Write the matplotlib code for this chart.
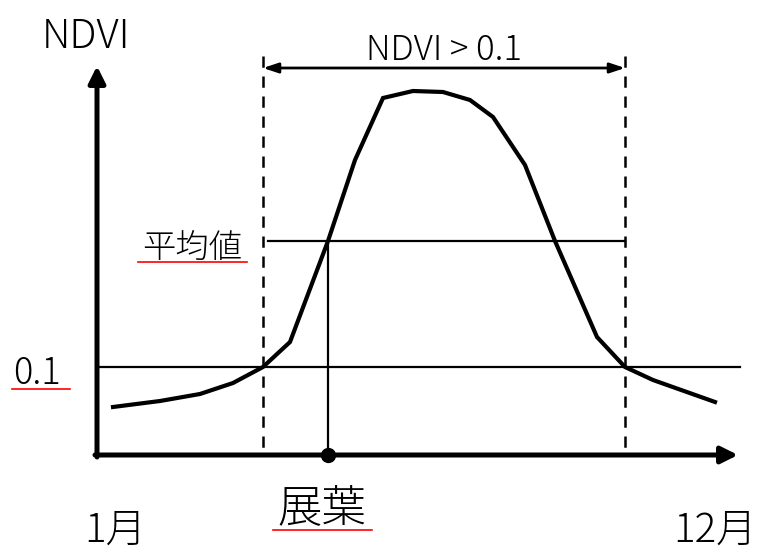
import matplotlib
matplotlib.use("Agg")
import matplotlib.pyplot as plt

plt.rcParams['font.family'] = ['Noto Sans CJK JP', 'DejaVu Sans']
plt.rcParams['font.weight'] = 'light'

# schematic coordinates (x to the right, y downward like the drawing)
curve_x = [113, 160, 200, 233, 263, 290, 328, 355, 383, 413, 443, 470, 493, 525, 555, 597, 625, 653, 715]
curve_y = [407, 401, 394, 383, 367, 342, 241, 160, 98, 91, 92, 100, 117, 165, 241, 337, 367, 380, 402]

origin = (97, 455)
x_end = 738
y_end = 66
start_x = 263      # NDVI crosses 0.1 going up
end_x = 625        # NDVI crosses 0.1 going down
thr_y = 367        # NDVI = 0.1
mean_y = 241       # mean NDVI
leaf_x = 328       # leaf-out date

fig = plt.figure(figsize=(7.63, 5.54), dpi=100)
ax = fig.add_axes([0, 0, 1, 1])
ax.set_xlim(0, 763)
ax.set_ylim(554, 0)
ax.axis('off')

# axes with arrows
ax.annotate('', xy=(origin[0], y_end), xytext=(origin[0], origin[1] + 2),
            arrowprops=dict(arrowstyle='-|>,head_length=1.0,head_width=0.5', lw=3.6, color='black',
                            shrinkA=0, shrinkB=0))
ax.annotate('', xy=(x_end, origin[1]), xytext=(origin[0] - 2, origin[1]),
            arrowprops=dict(arrowstyle='-|>,head_length=1.0,head_width=0.5', lw=3.6, color='black',
                            shrinkA=0, shrinkB=0))

# dashed verticals
for xv in [start_x, end_x]:
    ax.plot([xv, xv], [56, origin[1]], color='black', lw=1.8, ls=(0, (4.5, 3.5)))

# period arrow
ax.annotate('', xy=(end_x, 68), xytext=(start_x, 68),
            arrowprops=dict(arrowstyle='<|-|>,head_length=0.9,head_width=0.3', lw=2, color='black',
                            shrinkA=0, shrinkB=0))
ax.text((start_x + end_x) / 2, 60, 'NDVI > 0.1', ha='center', va='baseline', fontsize=25)

# threshold and mean lines
ax.plot([origin[0], 740], [thr_y, thr_y], color='black', lw=1.6)
ax.plot([268, end_x], [mean_y, mean_y], color='black', lw=1.6)
ax.plot([leaf_x, leaf_x], [mean_y, origin[1]], color='black', lw=1.6)

# NDVI curve
ax.plot(curve_x, curve_y, color='black', lw=3.0, solid_joinstyle='miter')
ax.plot([leaf_x], [origin[1]], 'o', color='black', ms=10)

# labels
ax.text(86, 48, 'NDVI', ha='center', va='baseline', fontsize=29)
ax.text(37, 384, '0.1', ha='center', va='baseline', fontsize=26)
ax.plot([12, 70], [389, 389], color='red', lw=1.2)
ax.text(192, 258, '平均値', ha='center', va='baseline', fontsize=24)
ax.plot([138, 247], [262, 262], color='red', lw=1.2)
ax.text(322, 521, '展葉', ha='center', va='baseline', fontsize=32)
ax.plot([273, 372], [530, 530], color='red', lw=1.2)
ax.text(115, 542, '1月', ha='center', va='baseline', fontsize=29)
ax.text(715, 542, '12月', ha='center', va='baseline', fontsize=29)

fig.savefig('out.png', dpi=100)
